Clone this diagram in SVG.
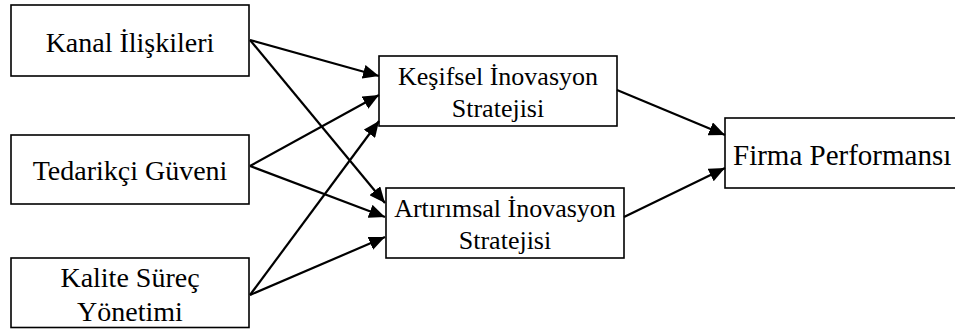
<svg xmlns="http://www.w3.org/2000/svg" width="955" height="329" viewBox="0 0 955 329">
  <style>
    .box { fill: #ffffff; stroke: #000000; stroke-width: 1.6; }
    .t { font-family: "Liberation Serif", "Times New Roman", serif; fill: #000000; text-anchor: middle; }
    .big { font-size: 28px; }
    .mid { font-size: 26px; }
    .edge { stroke: #000000; stroke-width: 2.2; fill: none; marker-end: url(#arrow); }
  </style>
  <defs>
    <marker id="arrow" markerUnits="userSpaceOnUse" markerWidth="17" markerHeight="14" refX="16" refY="7" orient="auto">
      <path d="M0,0 L16,7 L0,14 z" fill="#000000"/>
    </marker>
  </defs>
  <rect width="955" height="329" fill="#ffffff"/>

  <g id="n-kanal">
    <rect class="box" x="11" y="5" width="238" height="71"/>
    <text class="t big" x="130" y="52">Kanal İlişkileri</text>
  </g>
  <g id="n-tedarikci">
    <rect class="box" x="11" y="135" width="238" height="69"/>
    <text class="t big" x="130" y="180">Tedarikçi Güveni</text>
  </g>
  <g id="n-kalite">
    <rect class="box" x="11" y="258" width="238" height="69.5"/>
    <text class="t big" x="130" y="287">Kalite Süreç</text>
    <text class="t big" x="130" y="321">Yönetimi</text>
  </g>
  <g id="n-kesifsel">
    <rect class="box" x="379" y="56" width="238" height="70"/>
    <text class="t mid" x="498" y="85">Keşifsel İnovasyon</text>
    <text class="t mid" x="498" y="117">Stratejisi</text>
  </g>
  <g id="n-artirimsal">
    <rect class="box" x="386" y="188" width="238" height="70"/>
    <text class="t mid" x="505" y="217">Artırımsal İnovasyon</text>
    <text class="t mid" x="505" y="249">Stratejisi</text>
  </g>
  <g id="n-firma">
    <rect class="box" x="725" y="118" width="245" height="70"/>
    <text class="t big" x="733" y="165" style="text-anchor:start;font-size:29px">Firma Performansı</text>
  </g>

  <g id="connectors">
    <line class="edge" x1="250" y1="40" x2="379" y2="76"/>
    <line class="edge" x1="250" y1="40" x2="385" y2="203"/>
    <line class="edge" x1="250" y1="166" x2="379" y2="95"/>
    <line class="edge" x1="250" y1="166" x2="385" y2="217"/>
    <line class="edge" x1="250" y1="295" x2="379" y2="121"/>
    <line class="edge" x1="250" y1="295" x2="385" y2="237"/>
    <line class="edge" x1="617" y1="90" x2="725" y2="135"/>
    <line class="edge" x1="624" y1="217" x2="725" y2="168"/>
  </g>
</svg>
